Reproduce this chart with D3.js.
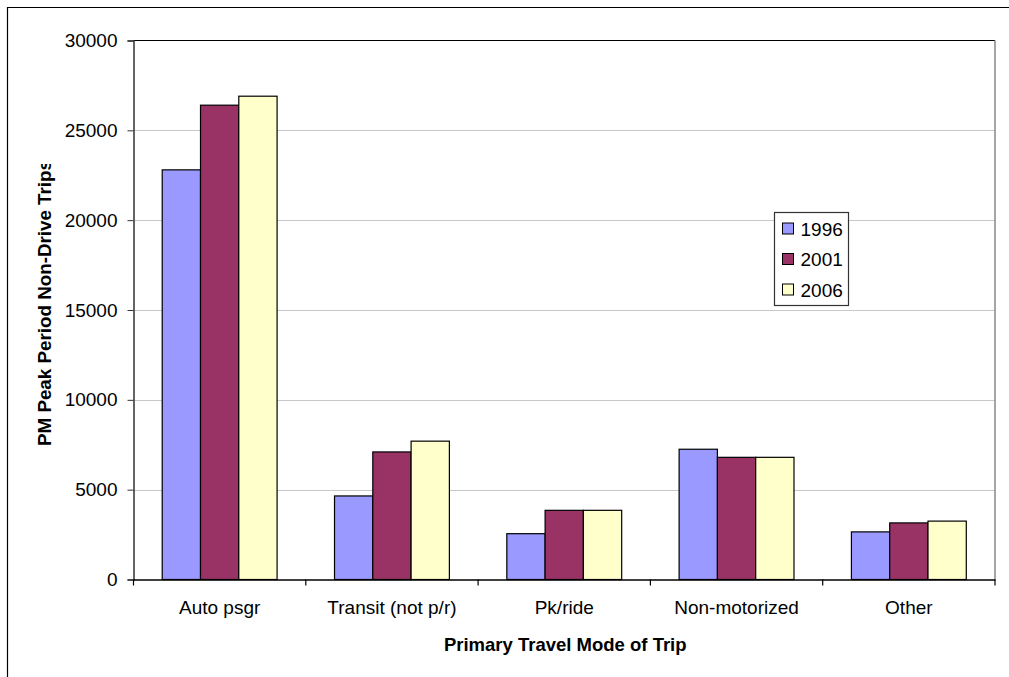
<!DOCTYPE html>
<html>
<head>
<meta charset="utf-8">
<script src="https://cdn.jsdelivr.net/npm/d3@7"></script>
<style>
  html, body { margin: 0; padding: 0; background: #fff; }
  svg { display: block; font-family: Arial, "Liberation Sans", sans-serif; }
</style>
</head>
<body>
<svg id="chart" width="1009" height="677"></svg>
<script>
// Trip counts by primary travel mode, per survey year
const categories = ["Auto psgr", "Transit (not p/r)", "Pk/ride", "Non-motorized", "Other"];
const years = ["1996", "2001", "2006"];
const values1996 = [22800, 4650, 2550, 7250, 2650];
const values2001 = [26400, 7100, 3850, 6800, 3150];
const values2006 = [26900, 7700, 3850, 6800, 3250];
const yTicks = [0, 5000, 10000, 15000, 20000, 25000, 30000];
const colors = ["#9999FF", "#993366", "#FFFFCC"];

const series = [values1996, values2001, values2006];

const svg = d3.select("#chart");
const plot = { left: 133.5, right: 995, top: 40.5, bottom: 579.5 };

// Outer chart border
svg.append("path")
  .attr("d", "M7.5,677 L7.5,7.5 L1009,7.5")
  .attr("fill", "none").attr("stroke", "#000").attr("stroke-width", 1.2);

const x = d3.scaleBand().domain(categories).range([plot.left, plot.right]).paddingInner(0).paddingOuter(0);
const xInner = d3.scaleBand().domain(years)
  .range([x.bandwidth() * 0.75 / 4.5, x.bandwidth() * 3.75 / 4.5]);
const y = d3.scaleLinear().domain([0, 30000]).range([plot.bottom, plot.top]);

// Gridlines
svg.append("g").selectAll("line").data(yTicks.filter(d => d > 0 && d < 30000)).join("line")
  .attr("x1", plot.left).attr("x2", plot.right)
  .attr("y1", d => Math.round(y(d)) + 0.5).attr("y2", d => Math.round(y(d)) + 0.5)
  .attr("stroke", "#c8c8c8").attr("stroke-width", 1);

// Plot area frame (top and right)
svg.append("line").attr("x1", plot.left).attr("x2", plot.right)
  .attr("y1", plot.top).attr("y2", plot.top).attr("stroke", "#000").attr("stroke-width", 1.2);
svg.append("line").attr("x1", plot.right).attr("x2", plot.right)
  .attr("y1", plot.top).attr("y2", plot.bottom).attr("stroke", "#888").attr("stroke-width", 1.5);

// Bars
const groups = svg.append("g").selectAll("g").data(categories).join("g")
  .attr("transform", c => `translate(${x(c)},0)`);
groups.selectAll("rect")
  .data((c, i) => years.map((yr, k) => ({ yr, k, v: series[k][i] })))
  .join("rect")
  .attr("x", d => xInner(d.yr))
  .attr("width", xInner.bandwidth())
  .attr("y", d => y(d.v))
  .attr("height", d => y(0) - y(d.v))
  .attr("fill", d => colors[d.k])
  .attr("stroke", "#000").attr("stroke-width", 1.2);

// Y axis
const yAxis = d3.axisLeft(y).tickValues(yTicks).tickSize(6).tickPadding(10).tickFormat(d3.format("d"));
const gy = svg.append("g").attr("transform", `translate(${plot.left},0)`).call(yAxis);
gy.select(".domain").attr("stroke", "#333").attr("stroke-width", 1.5);
gy.selectAll(".tick line").attr("stroke", "#333");
gy.selectAll("text").attr("font-size", 19).attr("fill", "#000")
  .attr("font-family", "Arial, 'Liberation Sans', sans-serif");

// X axis
const gx = svg.append("g").attr("transform", `translate(0,${plot.bottom})`)
  .call(d3.axisBottom(x).tickSize(0).tickPadding(21));
gx.select(".domain").attr("stroke", "#000").attr("stroke-width", 1.5);
gx.selectAll("text").attr("font-size", 19).attr("fill", "#000")
  .attr("font-family", "Arial, 'Liberation Sans', sans-serif");
// Category separator ticks
const bounds = categories.map(c => x(c)).concat([plot.right]);
gx.append("g").selectAll("line").data(bounds).join("line")
  .attr("x1", d => d).attr("x2", d => d).attr("y1", 0).attr("y2", 6)
  .attr("stroke", "#000").attr("stroke-width", 1.2);

// Axis titles
svg.append("text")
  .attr("x", (plot.left + plot.right) / 2 + 1).attr("y", 651)
  .attr("text-anchor", "middle").attr("font-weight", "bold").attr("font-size", 18.5)
  .text("Primary Travel Mode of Trip");

// The vertical title runs past the top of its frame and is cut there
svg.append("clipPath").attr("id", "ytitle-clip")
  .append("rect").attr("x", 0).attr("y", 164).attr("width", 120).attr("height", 400);
svg.append("g").attr("clip-path", "url(#ytitle-clip)")
  .append("text")
  .attr("transform", "translate(51,446) rotate(-90)")
  .attr("text-anchor", "start").attr("font-weight", "bold").attr("font-size", 18.8)
  .text("PM Peak Period Non-Drive Trips");

// Legend
const legend = svg.append("g").attr("transform", "translate(774.5,212.5)");
legend.append("rect").attr("width", 74).attr("height", 93)
  .attr("fill", "#fff").attr("stroke", "#333").attr("stroke-width", 1.2);
const items = legend.selectAll("g.item").data(years).join("g").attr("class", "item")
  .attr("transform", (d, i) => `translate(0,${16 + i * 30.5})`);
items.append("rect").attr("x", 8).attr("y", -5.5).attr("width", 11).attr("height", 11)
  .attr("fill", (d, i) => colors[i]).attr("stroke", "#000").attr("stroke-width", 1);
items.append("text").attr("x", 26).attr("y", 7).attr("font-size", 19).text(d => d);
</script>
</body>
</html>
